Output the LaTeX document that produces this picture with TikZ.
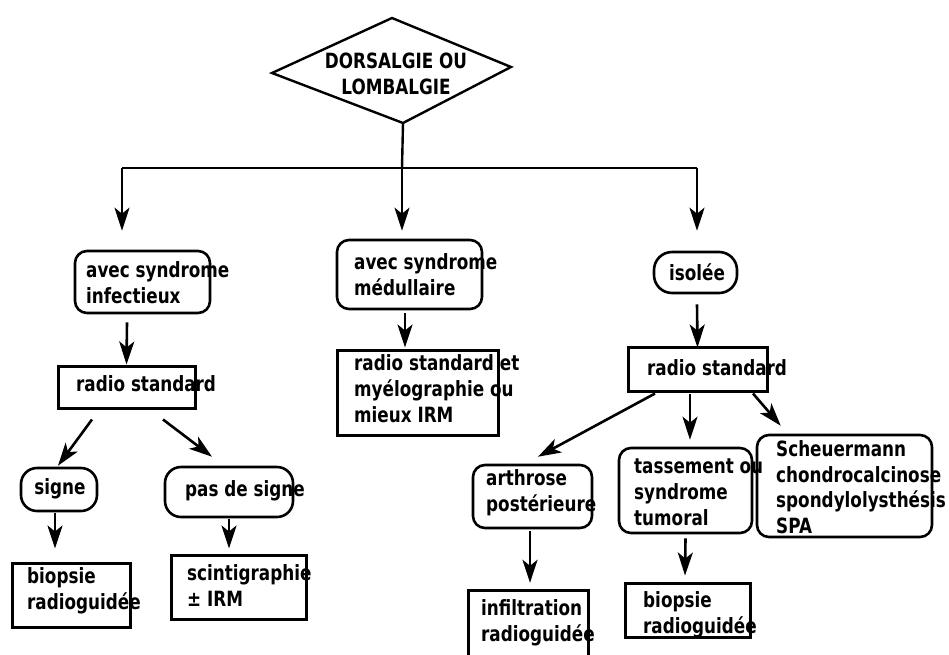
\documentclass[tikz,border=0pt]{standalone}
\usepackage{fontspec}
\setmainfont{DejaVu Sans}[FakeStretch=0.8]
\usetikzlibrary{arrows.meta}
\begin{document}
\begin{tikzpicture}[x=1pt,y=-1pt,
  rbox/.style={draw, line width=2.6pt, rounded corners=12pt, inner sep=0pt},
  sbox/.style={draw, line width=3pt, inner sep=0pt},
  txt/.style={font=\fontsize{21}{26}\selectfont\bfseries, anchor=west, align=left, inner sep=0pt},
  ctxt/.style={font=\fontsize{21}{26.5}\selectfont\bfseries, align=center, inner sep=0pt},
  conn/.style={line width=2.4pt},
  arr/.style={line width=2.6pt, -{Stealth[length=23pt,width=15pt,inset=6pt]}}]
\useasboundingbox (0,0) rectangle (949,654);
% diamond
\coordinate (dtop) at (392,18);
\coordinate (dleft) at (272,73);
\coordinate (dbot) at (403,123);
\coordinate (dright) at (511,67);
\draw[line width=2.4pt] (dtop) -- (dleft) -- (dbot) -- (dright) -- cycle;
\node[ctxt] (dT) at (396,74) {DORSALGIE OU\\LOMBALGIE};
% boxes
\node[rbox, minimum width=135pt, minimum height=62pt] (inf) at (142.5,282) {};
\node[rbox, minimum width=145pt, minimum height=69pt] (med) at (409.5,274.5) {};
\node[rbox, rounded corners=18pt, minimum width=83pt, minimum height=41pt] (iso) at (695.5,272.5) {};
\node[sbox, minimum width=137pt, minimum height=42pt] (rs1) at (126.5,387) {};
\node[sbox, minimum width=161pt, minimum height=85pt] (rsm) at (417.5,392.5) {};
\node[sbox, minimum width=139pt, minimum height=44pt] (rs3) at (697.5,369) {};
\node[rbox, rounded corners=16pt, minimum width=76pt, minimum height=43pt] (sig) at (59,489.5) {};
\node[rbox, rounded corners=16pt, minimum width=128pt, minimum height=50pt] (pas) at (229,492) {};
\node[sbox, minimum width=118pt, minimum height=64pt] (bio1) at (71,595) {};
\node[sbox, minimum width=135pt, minimum height=64pt] (sci) at (238.5,587) {};
\node[rbox, minimum width=119pt, minimum height=63pt] (art) at (532.5,496.5) {};
\node[rbox, minimum width=133pt, minimum height=85pt] (tas) at (685.5,490.5) {};
\node[rbox, minimum width=175pt, minimum height=102pt] (sch) at (844.5,486) {};
\node[inner sep=0pt, minimum width=119pt, minimum height=79pt] (infil) at (528.5,630.5) {};
\node[sbox, minimum width=125pt, minimum height=54pt] (bio2) at (687.5,610) {};
\begin{scope}
\clip (0,0) rectangle (949,654);
\draw[line width=3pt] (infil.south west) -- (infil.north west) -- (infil.north east) -- (infil.south east);
\end{scope}
% texts
\node[txt] (infT) at (86,283) {avec syndrome\\infectieux};
\node[txt] (medT) at (354,275) {avec syndrome\\médullaire};
\node[ctxt] (isoT) at (697,272) {isolée};
\node[txt] (rs1T) at (76,384) {radio standard};
\node[txt] (rsmT) at (354,389) {radio standard et\\myélographie ou\\mieux IRM};
\node[txt] (rs3T) at (647,368) {radio standard};
\node[ctxt] (sigT) at (60,489) {signe};
\node[txt] (pasT) at (185,491) {pas de signe};
\node[txt] (bio1T) at (27,591) {biopsie\\radioguidée};
\node[txt] (sciT) at (187,586) {scintigraphie\\± IRM};
\node[txt] (artT) at (486,493) {arthrose\\postérieure};
\node[txt] (tasT) at (634,492) {tassement ou\\syndrome\\tumoral};
\node[txt, font=\fontsize{21}{25.5}\selectfont\bfseries] (schT) at (776,487) {Scheuermann\\chondrocalcinose\\spondylolysthésis\\SPA};
\node[txt] (infilT) at (481,623) {infiltration\\radioguidée};
\node[txt] (bio2T) at (643,615) {biopsie\\radioguidée};
% connectors
\coordinate (j) at (402,168);
\coordinate (jl) at (122,168);
\coordinate (jr) at (697,168);
\draw[conn] (dbot) -- (j);
\draw[conn] (jl) -- (jr);
\draw[arr, shorten >=19pt] (jl) -- (jl |- inf.north);
\draw[arr, shorten >=8pt] (j) -- (j |- med.north);
\draw[arr, shorten >=20pt] (jr) -- (jr |- iso.north);
\draw[arr] ([xshift=-15.5pt,yshift=-8pt]inf.south) -- (rs1.north);
\draw[arr] ([xshift=-4.5pt,yshift=-3pt]med.south) -- ([xshift=-12.5pt,yshift=1pt]rsm.north);
\draw[arr] ([xshift=1.5pt,yshift=-10pt]iso.south) -- ([yshift=-2pt]rs3.north);
\draw[arr] ([xshift=-34.5pt,yshift=-10pt]rs1.south) -- ([xshift=-1pt,yshift=1pt]sig.north);
\draw[arr] ([xshift=36.5pt,yshift=-10pt]rs1.south) -- ([xshift=-17pt,yshift=9pt]pas.north);
\draw[arr] ([xshift=-4pt,yshift=-1pt]sig.south) -- ([xshift=-16pt,yshift=13pt]bio1.north);
\draw[arr] ([yshift=-1pt]pas.south) -- ([xshift=-9.5pt,yshift=5pt]sci.north);
\draw[arr] ([xshift=-42.5pt,yshift=-1pt]rs3.south) -- ([xshift=5.5pt,yshift=7pt]art.north);
\draw[arr] ([xshift=-7.5pt,yshift=-1pt]rs3.south) -- ([xshift=4.5pt,yshift=7pt]tas.north);
\draw[arr] ([xshift=55.5pt,yshift=-1pt]rs3.south) -- ([xshift=25pt,yshift=8pt]sch.north west);
\draw[arr] ([xshift=-2.5pt,yshift=-2pt]art.south) -- ([xshift=1.5pt,yshift=8pt]infil.north);
\draw[arr] ([yshift=-4pt]tas.south) -- ([xshift=-2.5pt,yshift=6pt]bio2.north);
\end{tikzpicture}
\end{document}
